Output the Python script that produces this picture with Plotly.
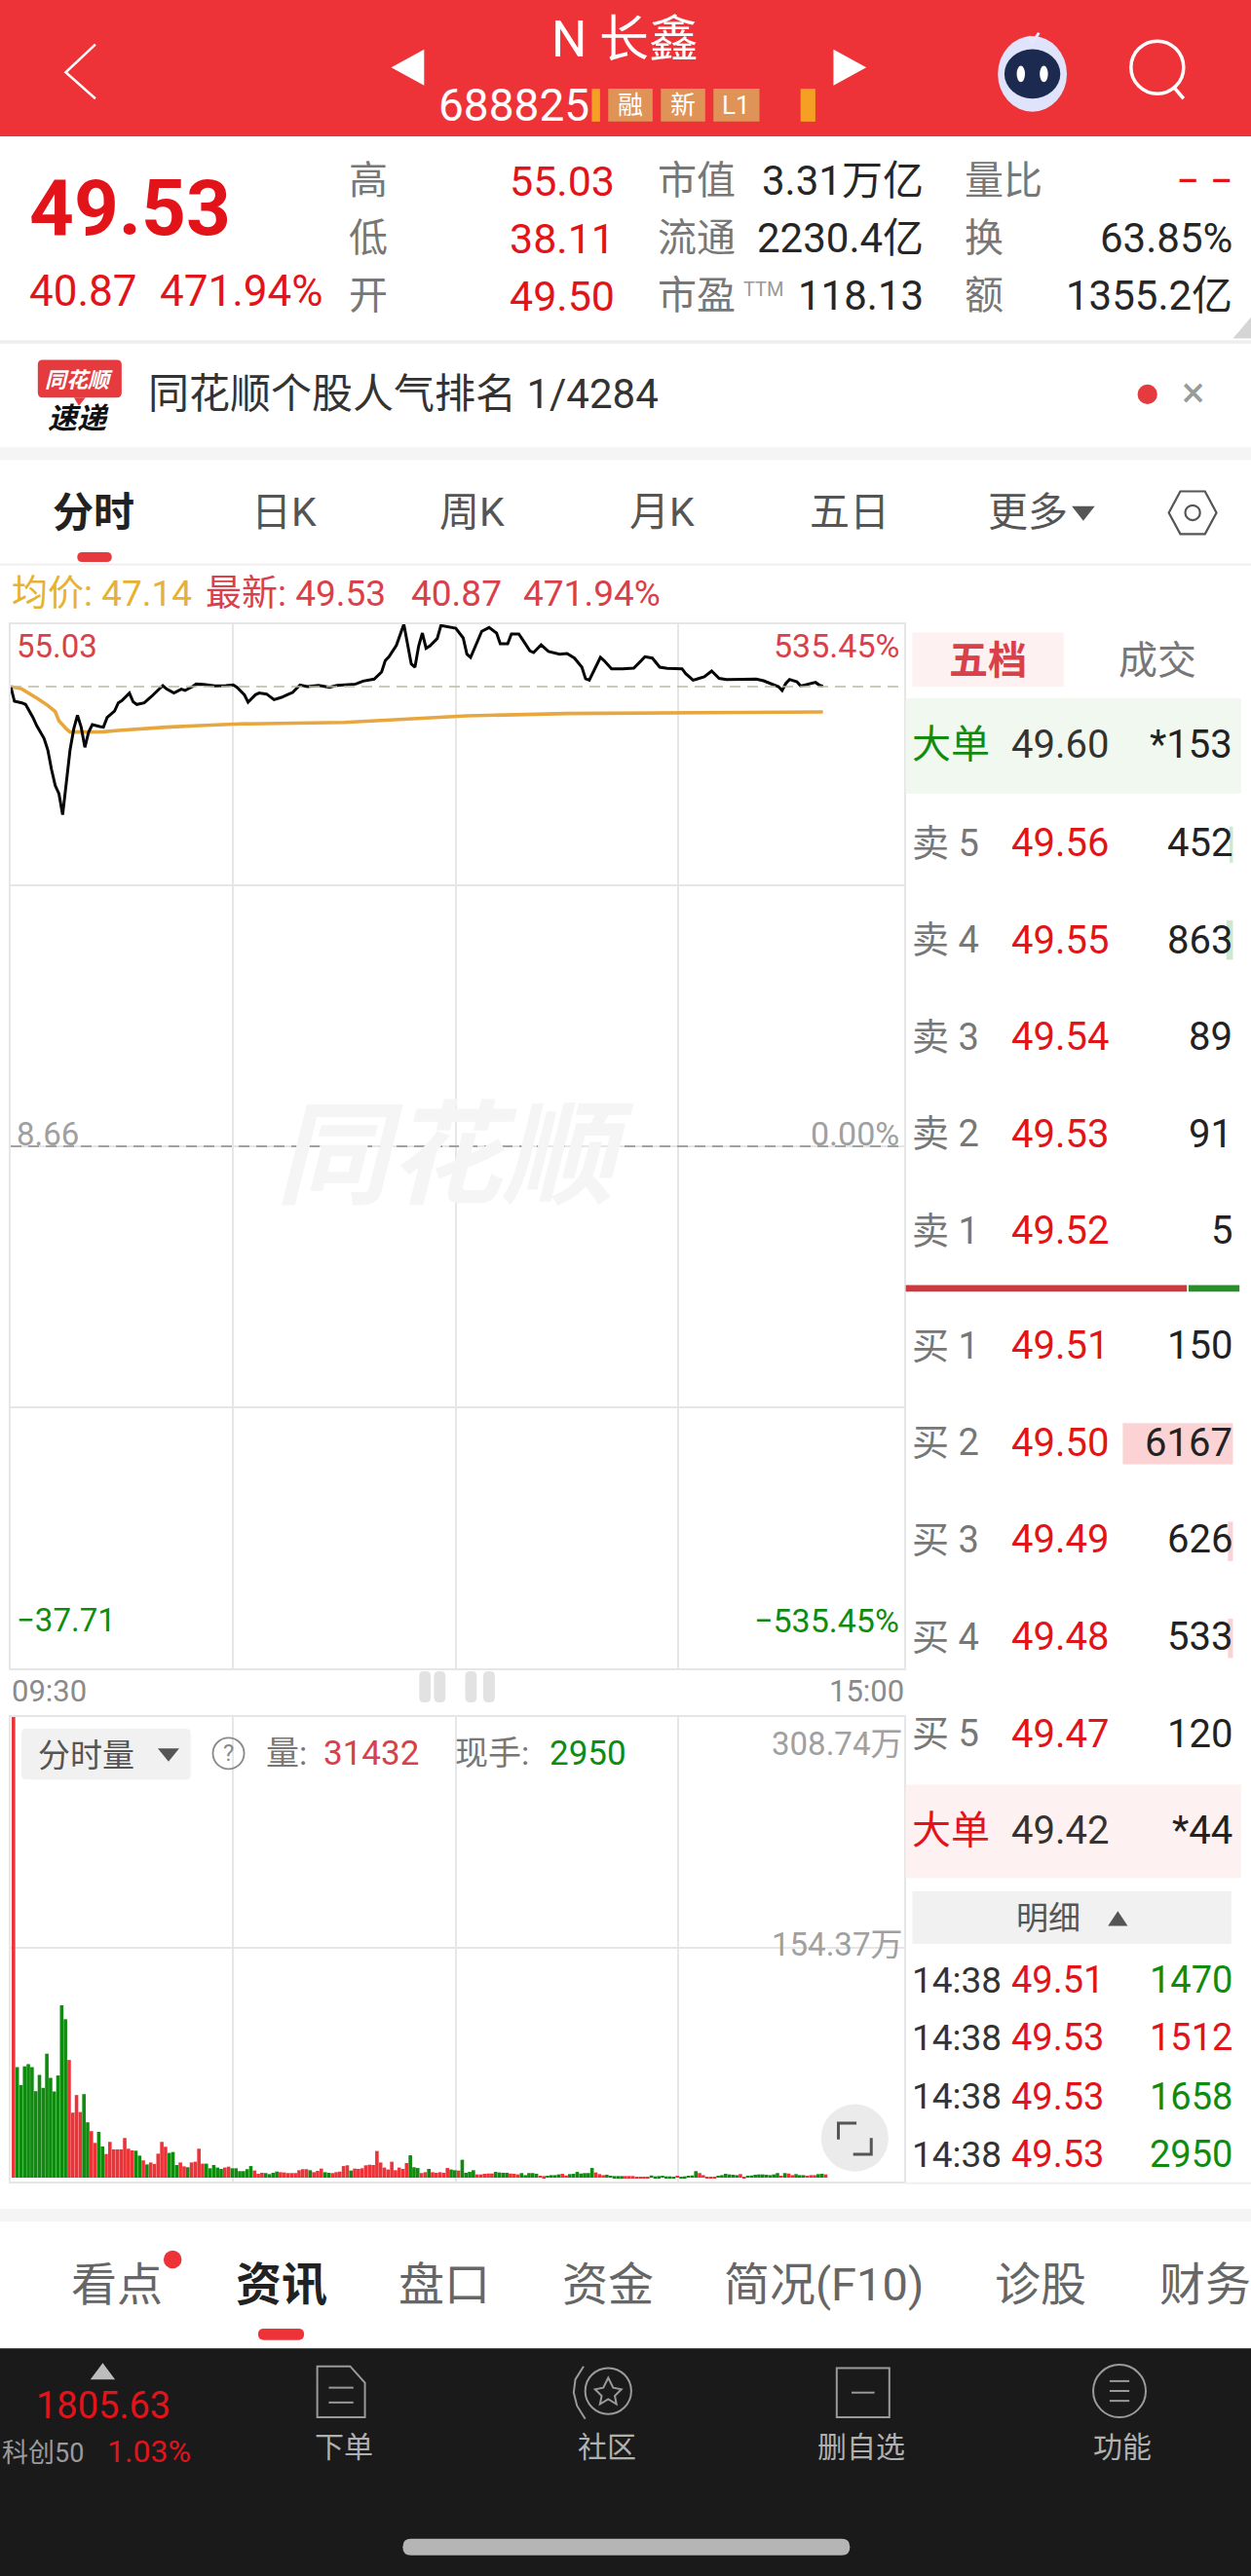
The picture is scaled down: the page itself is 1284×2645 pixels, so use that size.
import plotly.graph_objects as go
from plotly.subplots import make_subplots

# ---------- chart data ----------
price_minutes = [0,1,3,4,6,7,9,10,11,12,13,14,15,16,17,18,19,20,21,22,24,25,26,28,29,30,32,33,34,36,38,41,42,44,46,47,49,50,52,55,58,60,
    61,63,64,66,67,69,71,73,75,76,78,80,83,86,88,90,93,95,98,100,101,102,104,106,107,108,109,110,111,112,113,115,116,118,120,122,123,124,126,127,129,131,132,134,135,137,138,140,141,143,
    145,148,150,152,154,155,156,157,159,160,162,165,168,170,171,173,175,177,181,182,184,185,187,189,191,193,201,203,205,207,208,209,210,212,213,215,217,218,219]
price_values = [49.50,48.19,48.05,47.91,46.75,46.03,44.88,43.87,42.14,40.70,39.98,38.11,40.98,43.87,45.74,46.95,45.89,44.10,45.45,46.12,45.95,45.89,46.75,47.33,48.05,48.25,48.92,48.14,47.91,48.05,48.63,49.58,49.29,48.92,49.26,49.15,49.49,49.72,49.69,49.55,49.58,49.64,
    49.44,48.77,48.11,48.77,48.92,48.83,48.34,48.54,48.83,48.97,49.64,49.49,49.61,49.44,49.61,49.64,49.72,49.98,50.16,50.79,51.80,52.15,53.16,55.03,53.24,51.51,51.22,53.10,54.25,52.90,53.10,53.76,54.92,54.77,54.68,53.82,52.38,52.09,53.53,54.40,54.74,54.25,53.30,53.30,54.17,54.17,53.68,52.67,52.52,53.20,
    52.61,52.38,52.44,52.03,51.22,50.19,50.07,50.79,52.09,51.80,51.08,51.08,51.14,51.80,52.15,52.03,51.22,51.11,51.08,50.65,50.07,50.16,50.36,50.88,50.22,50.13,50.16,50.01,49.72,49.49,49.15,49.78,50.13,49.93,49.55,49.72,49.87,49.64,49.53]
avg_minutes = [0,3,7,10,12,13,15,16,20,25,29,35,42,51,62,90,106,123,150,180,219]
avg_values = [49.50,49.29,48.48,47.82,47.27,46.46,45.74,45.46,45.46,45.48,45.60,45.74,45.89,46.03,46.18,46.32,46.61,46.90,47.10,47.18,47.24]
volumes_wan = [308.74,
    74.1,62.1,74.6,76.1,74.1,58.0,68.9,60.2,83.1,66.9,57.8,68.5,115.5,106.2,78.9,43.6,55.4,44.0,56.0,37.1,31.2,23.3,30.7,20.9,15.9,24.0,19.0,19.0,19.0,26.6,19.4,18.3,18.1,14.8,11.6,8.9,10.2,9.2,16.1,24.0,20.7,16.6,17.2,8.5,10.2,7.6,7.0,10.2,
    10.7,19.4,9.4,9.4,6.3,8.5,6.8,5.9,6.8,7.4,6.3,6.3,4.4,4.4,5.7,7.8,4.8,2.6,3.3,3.1,2.4,3.3,4.1,3.7,3.5,3.1,3.1,3.1,5.0,5.7,5.7,5.0,3.7,4.6,6.1,3.7,3.3,3.1,3.7,4.1,7.8,8.3,4.8,6.1,5.9,6.3,8.3,8.7,8.5,17.9,10.2,6.8,5.5,10.7,5.0,6.8,5.9,9.8,15.0,7.0,6.5,3.1,3.7,5.9,3.7,3.3,
    3.7,3.3,6.5,5.5,5.0,4.8,12.0,3.3,3.9,5.0,2.2,2.2,2.6,2.8,2.8,3.9,3.5,3.3,3.3,2.8,2.6,2.2,3.1,1.7,3.1,3.1,2.6,1.3,1.1,1.3,1.7,1.7,2.2,2.6,1.5,2.4,2.6,3.9,2.8,3.1,3.1,6.5,3.5,2.4,1.7,2.0,1.3,1.1,1.1,1.1,1.1,1.1,1.1,0.4,0.7,0.7,0.7,1.5,0.9,1.1,1.3,0.9,0.9,0.7,1.3,0.7,0.9,1.3,1.5,4.4,3.1,1.7,0.7,0.7,0.7,1.3,1.7,2.6,2.2,2.0,1.7,2.4,0.4,1.3,1.5,2.0,2.2,2.2,2.0,1.7,2.2,3.1,1.3,3.1,2.8,1.7,2.4,1.7,1.7,1.3,1.7,1.7,2.4,2.6,2.2]
volume_dir_runs = [("r",1),("g",14),("r",4),("g",2),("r",2),("g",2),("r",8),("g",2),("r",1),("g",1),("r",5),("g",3),("r",2),("g",1),("r",4),("g",5),("r",2),("g",6),("r",3),("g",4),("r",8),("g",1),("r",3),("g",2),("r",5),("g",1),("r",15),("g",3),("r",2),("g",1),("r",5),("g",2),("r",1),("g",4),("r",5),("g",4),("r",3),("g",5),("r",2),("g",4),("r",2),("g",7),("r",3),("g",5),("r",7),("g",7),("r",1),("g",5),("r",5),("g",6),("r",2),("g",9),("r",1),("g",1),("r",2),("g",3),("r",3),("g",2),("r",1)]

sell_rows = [("卖 5","49.56","452"),("卖 4","49.55","863"),("卖 3","49.54","89"),("卖 2","49.53","91"),("卖 1","49.52","5")]
buy_rows = [("买 1","49.51","150"),("买 2","49.50","6167"),("买 3","49.49","626"),("买 4","49.48","533"),("买 5","49.47","120")]
trade_rows = [("14:38","49.51","1470","g"),("14:38","49.53","1512","r"),("14:38","49.53","1658","g"),("14:38","49.53","2950","g")]

W, H = 1284, 2645
F = "Roboto, 'Noto Sans CJK SC', sans-serif"
CJK = "'Noto Sans CJK SC', sans-serif"
RED = "#ee3338"; PRED = "#e3131a"; SOFTRED = "#d9404a"; GREEN = "#0f8c0f"; GRAY = "#777777"; DARK = "#333333"; LBL = "#9a9a9a"
GRID = "#e6e6e6"

dirs = [d for d, n in volume_dir_runs for _ in range(n)]
assert len(dirs) == len(volumes_wan), (len(dirs), len(volumes_wan))
bar_colors = [RED if d == "r" else GREEN for d in dirs]

fig = make_subplots(rows=2, cols=1)
fig.add_trace(go.Scatter(x=avg_minutes, y=avg_values, mode="lines", line=dict(color="#e8a63f", width=3.6), name="均价"), row=1, col=1)
fig.add_trace(go.Scatter(x=price_minutes, y=price_values, mode="lines", line=dict(color="#050505", width=3), name="最新"), row=1, col=1)
fig.add_trace(go.Bar(x=list(range(len(volumes_wan))), y=volumes_wan, width=0.95, offset=0.27,
                     marker=dict(color=bar_colors, line=dict(width=0)), name="分时量"), row=2, col=1)

xcommon = dict(range=[0, 240.9], tickmode="array", tickvals=[60, 120, 180], showticklabels=False, ticks="",
               showgrid=True, gridcolor=GRID, gridwidth=1.5, zeroline=False, showline=True, linecolor=GRID, linewidth=1.5, mirror=True)
ycommon = dict(showticklabels=False, ticks="", showgrid=True, gridcolor=GRID, gridwidth=1.5, zeroline=False,
               showline=True, linecolor=GRID, linewidth=1.5, mirror=True)
fig.update_xaxes(domain=[11/W, 928/W], **xcommon)
fig.update_yaxes(row=1, col=1, domain=[1-1713/H, 1-641/H], range=[-37.71, 55.03], tickmode="array", tickvals=[31.85, 8.66, -14.53], **ycommon)
fig.update_yaxes(row=2, col=1, domain=[1-2240/H, 1-1763/H], range=[-2.6, 308.74], tickmode="array", tickvals=[154.37], **ycommon)

shapes, ann = [], []
px = lambda v: v / 761.0
py = lambda v: 1 - v / 1567.6

def T(x, y, s, size=40, color=DARK, anchor="left", bold=False, font=F, italic=False, valign="middle"):
    txt = f"<b>{s}</b>" if bold else s
    if italic: txt = f"<i>{txt}</i>"
    ann.append(dict(xref="paper", yref="paper", x=px(x), y=py(y), text=txt, showarrow=False, xanchor=anchor, yanchor=valign,
                    font=dict(family=font, size=size, color=color), borderpad=0, borderwidth=0))

def R(x0, y0, x1, y1, fill, layer="above"):
    shapes.append(dict(type="rect", xref="paper", yref="paper", x0=px(x0), x1=px(x1), y0=py(y0), y1=py(y1),
                       fillcolor=fill, line=dict(width=0), layer=layer))

def C(cx, cy, r, fill="rgba(0,0,0,0)", line=None, width=0, ry=None):
    ry = r if ry is None else ry
    shapes.append(dict(type="circle", xref="paper", yref="paper", x0=px(cx-r), x1=px(cx+r), y0=py(cy-ry), y1=py(cy+ry),
                       fillcolor=fill, line=dict(color=line or fill, width=width)))

def P(pts, fill=None, line=None, width=0, close=True):
    d = "M " + " L ".join(f"{px(a):.5f},{py(b):.5f}" for a, b in pts) + (" Z" if close else "")
    shapes.append(dict(type="path", xref="paper", yref="paper", path=d, fillcolor=fill or "rgba(0,0,0,0)",
                       line=dict(color=line or "rgba(0,0,0,0)", width=width)))

def RR(x0, y0, x1, y1, r, fill):
    f = lambda a, b: f"{px(a):.5f},{py(b):.5f}"
    d = (f"M {f(x0+r,y0)} L {f(x1-r,y0)} Q {f(x1,y0)} {f(x1,y0+r)} L {f(x1,y1-r)} Q {f(x1,y1)} {f(x1-r,y1)} "
         f"L {f(x0+r,y1)} Q {f(x0,y1)} {f(x0,y1-r)} L {f(x0,y0+r)} Q {f(x0,y0)} {f(x0+r,y0)} Z")
    shapes.append(dict(type="path", xref="paper", yref="paper", path=d, fillcolor=fill, line=dict(width=0)))

# dashed reference lines through the axes' own scale
for level, col in ((49.50, "#bdb9a6"), (8.66, "#8c8c8c")):
    shapes.append(dict(type="line", xref="x", yref="y", x0=0, x1=240.9, y0=level, y1=level,
                       line=dict(color=col, width=1.5, dash="11px,7px")))

# ---- header ----
R(0, 0, 761, 83, RED)
P([(58, 27), (40, 44), (58, 60)], line="#ffffff", width=2.5, close=False)
P([(258, 30), (238, 41), (258, 52)], fill="#ffffff")
P([(507, 30), (527, 41), (507, 52)], fill="#ffffff")
T(380, 24, "N 长鑫", 51, "#ffffff", "center")
T(267, 64, "688825", 46, "#ffffff")
R(360, 54, 365, 74, "#f5a025")
for x0, x1, t in ((370, 397, "融"), (402, 429, "新"), (434, 462, "L1")):
    R(x0, 54, x1, 74, "#e09356")
    T((x0+x1)/2, 64, t, 26, "#ffffff", "center")
R(487, 54, 496, 74, "#f5a025")
C(628, 45, 21, fill="#dfe3fb", ry=23)
C(628, 45, 17, fill="#1b2a4e", ry=15)
C(621, 45, 2.5, fill="#ffffff", ry=5)
C(635, 45, 2.5, fill="#ffffff", ry=5)
P([(626, 22), (628, 26), (632, 20)], line="#e6e8ff", width=3, close=False)
C(704, 41, 16, line="#ffffff", width=3.5)
P([(714, 53), (720, 60)], line="#ffffff", width=3.5, close=False)

# ---- quote summary ----
T(18, 127, "49.53", 80, PRED, bold=True)
T(18, 177, "40.87", 44, PRED)
T(97, 177, "471.94%", 44, PRED)
for y, a, b, c, d, e, f in ((110, "高", "55.03", "市值", "3.31万亿", "量比", "− −"), (145, "低", "38.11", "流通", "2230.4亿", "换", "63.85%"), (180, "开", "49.50", "市盈", "118.13", "额", "1355.2亿")):
    T(212, y, a, 40, GRAY)
    T(374, y, b, 43, PRED, "right")
    T(400, y, c, 40, GRAY)
    T(562, y, d, 42, "#262626", "right")
    T(587, y, e, 40, GRAY)
    T(750, y, f, 42, PRED if f.startswith("−") else "#262626", "right")
T(452, 176, "TTM", 20, "#999999")
P([(750, 206), (761, 206), (761, 193)], fill="#d5d5d5")
R(0, 207, 761, 209, "#eeeeee")

# ---- banner ----
RR(23, 219, 74, 242, 3, "#e53b3f")
P([(45, 242), (52, 242), (48, 247)], fill="#e53b3f")
T(48, 230, "同花顺", 22, "#ffffff", "center", bold=True, italic=True, font=CJK)
T(48, 253, "速递", 30, "#111111", "center", bold=True, italic=True, font=CJK)
T(90, 240, "同花顺个股人气排名 1/4284", 42, DARK)
C(698, 240, 6, fill="#e53b3f")
T(726, 239, "×", 44, "#9a9a9a", "center")
R(0, 272, 761, 280, "#f5f5f5")

# ---- period tabs ----
T(57, 312, "分时", 42, "#222222", "center", bold=True)
for x, t in ((173, "日K"), (287, "周K"), (403, "月K"), (517, "五日"), (625, "更多")):
    T(x, 312, t, 41, "#555555", "center")
P([(652, 308), (666, 308), (659, 317)], fill="#555555")
P([(711, 312), (718, 299), (733, 299), (740, 312), (733, 325), (718, 325)], line="#555555", width=2.2)
C(725.5, 312, 4.5, line="#555555", width=2.2)
RR(47, 336, 68, 342, 3, "#e53b3f")
R(0, 343, 761, 344, "#eeeeee")

# ---- labels above and inside the price panel ----
T(7, 361, "均价: 47.14", 37, "#e7b132")
T(125, 361, "最新: 49.53", 37, SOFTRED)
T(250, 361, "40.87", 37, SOFTRED)
T(318, 361, "471.94%", 37, SOFTRED)
T(10, 393, "55.03", 33, SOFTRED)
T(547, 393, "535.45%", 34, SOFTRED, "right")
T(10, 690, "8.66", 33, "#a0a0a0")
T(547, 690, "0.00%", 34, "#a0a0a0", "right")
T(10, 986, "−37.71", 33, GREEN)
T(547, 986, "−535.45%", 34, GREEN, "right")
T(277, 697, "同花顺", 116, "#f5f5f5", "center", bold=True, italic=True, font=CJK)
T(7, 1029, "09:30", 31, "#8a8a8a")
T(550, 1029, "15:00", 31, "#8a8a8a", "right")
for x in (255, 264, 283, 294):
    RR(x, 1017, x+7, 1036, 3, "#e2e2e2")

# ---- labels of the volume panel ----
RR(13, 1052, 116, 1083, 3, "#f1f1f1")
T(23, 1068, "分时量", 33, "#555555")
P([(96, 1064), (109, 1064), (102.5, 1072)], fill="#555555")
C(139, 1067, 9.5, line="#8a8a8a", width=1.8)
T(139, 1067, "?", 24, "#8a8a8a", "center")
T(162, 1067, "量:", 34, GRAY)
T(197, 1067, "31432", 35, SOFTRED)
T(277, 1067, "现手:", 34, GRAY)
T(334, 1067, "2950", 35, GREEN)
T(549, 1061, "308.74万", 33, "#a0a0a0", "right")
T(549, 1183, "154.37万", 33, "#a0a0a0", "right")
C(520, 1301, 20.5, fill="#ebebeb")
P([(510, 1302), (510, 1292), (521, 1292)], line="#555555", width=3, close=False)
P([(519, 1311), (530, 1311), (530, 1301)], line="#555555", width=3, close=False)

# ---- order book ----
R(555, 385, 647, 418, "#fdf1f1")
T(601, 402, "五档", 40, SOFTRED, "center", bold=True)
T(704, 402, "成交", 40, "#777777", "center")
R(551, 425, 755, 483, "#f0f8f0")
T(555, 453, "大单", 40, GREEN)
T(615, 453, "49.60", 40, "#333333")
T(750, 453, "*153", 40, "#222222", "right")
for y, (a, b, c) in zip((513, 572, 631, 690, 749), sell_rows):
    T(555, y, a, 38, GRAY)
    T(615, y, b, 40, PRED)
    T(750, y, c, 40, "#222222", "right")
R(748, 503, 750, 525, "#cfe8cf"); R(746, 560, 750, 584, "#cfe8cf")
R(551, 782, 722, 786, "#cc3a40"); R(723, 782, 754, 786, "#2a8f2a")
R(683, 866, 750, 891, "#fbd3d4")
R(747, 926, 750, 950, "#fbd3d4"); R(747, 985, 750, 1009, "#fbd3d4")
for y, (a, b, c) in zip((819, 878, 937, 996, 1055), buy_rows):
    T(555, y, a, 38, GRAY)
    T(615, y, b, 40, PRED)
    T(750, y, c, 40, "#222222", "right")
R(551, 1086, 755, 1143, "#fdf1f1")
T(555, 1114, "大单", 40, PRED)
T(615, 1114, "49.42", 40, "#333333")
T(750, 1114, "*44", 40, "#222222", "right")
R(555, 1151, 749, 1183, "#f1f1f1")
T(638, 1167, "明细", 33, "#555555", "center")
P([(674, 1172), (686, 1172), (680, 1163)], fill="#555555")
for y, (a, b, c, d) in zip((1205, 1240, 1276, 1311), trade_rows):
    T(555, y, a, 37, "#333333")
    T(615, y, b, 38, PRED)
    T(750, y, c, 38, GREEN if d == "g" else PRED, "right")
R(550, 1328, 761, 1329, "#eeeeee")
R(0, 1344, 761, 1352, "#f5f5f5")

# ---- bottom tabs ----
for x, t, c, b in ((71, "看点", "#666666", False), (171, "资讯", "#222222", True), (270, "盘口", "#666666", False), (370, "资金", "#666666", False), (501, "简况(F10)", "#666666", False), (633, "诊股", "#666666", False), (733, "财务", "#666666", False)):
    T(x, 1390, t, 47, c, "center", bold=b)
C(105, 1375, 5.5, fill="#ee3338")
RR(157, 1417, 185, 1424, 3.5, "#ee3338")

# ---- dark footer ----
R(0, 1429, 761, 1568, "#1a1a1a")
P([(55, 1448), (70, 1448), (62.5, 1438)], fill="#bdbdbd")
T(63, 1464, "1805.63", 38, "#e3131a", "center")
T(1, 1493, "科创50", 27, "#9a9a9a")
T(65, 1492, "1.03%", 32, "#e3131a")
for x, t in ((209, "下单"), (369, "社区"), (524, "删自选"), (683, "功能")):
    T(x, 1489, t, 30, "#b0b0b0", "center")
P([(193, 1440), (213, 1440), (222, 1450), (222, 1471), (193, 1471)], line="#9a9a9a", width=2)
P([(200, 1453), (215, 1453)], line="#9a9a9a", width=2, close=False)
P([(200, 1462), (215, 1462)], line="#9a9a9a", width=2, close=False)
C(370, 1455, 14, line="#9a9a9a", width=2)
P([(355, 1440), (350, 1448), (349, 1456), (351, 1464), (356, 1472)], line="#9a9a9a", width=2, close=False)
P([(370, 1447), (373, 1453), (378, 1454), (374, 1458), (375, 1463), (370, 1460), (365, 1463), (366, 1458), (362, 1454), (367, 1453)], line="#9a9a9a", width=2)
P([(509, 1441), (541, 1441), (541, 1471), (509, 1471)], line="#9a9a9a", width=2)
P([(518, 1456), (532, 1456)], line="#9a9a9a", width=2, close=False)
C(681, 1455, 16, line="#9a9a9a", width=2)
for y in (1449, 1455, 1461):
    P([(675, y), (687, y)], line="#9a9a9a", width=2, close=False)
RR(245, 1545, 517, 1555, 5, "#b5b5b5")

fig.update_layout(width=W, height=H, margin=dict(l=0, r=0, t=0, b=0, pad=0), autosize=False,
                  paper_bgcolor="#ffffff", plot_bgcolor="rgba(255,255,255,0)", showlegend=False, hovermode=False,
                  barmode="overlay", shapes=shapes, annotations=ann, font=dict(family=F))
fig.write_html("out.html", config=dict(displayModeBar=False),
               post_script="document.body.style.margin='0';document.body.style.overflow='hidden';")
